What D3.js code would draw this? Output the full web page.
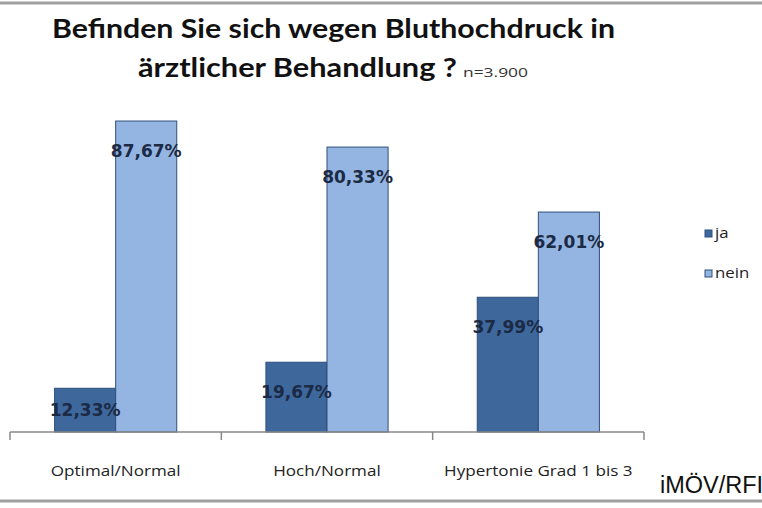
<!DOCTYPE html>
<html>
<head>
<meta charset="utf-8">
<script src="https://cdn.jsdelivr.net/npm/d3@7"></script>
<style>
  body { margin: 0; background: #fff; }
  svg { display: block; }
</style>
</head>
<body>
<div id="chart"></div>
<script>
var categories = ['Optimal/Normal', 'Hoch/Normal', 'Hypertonie Grad 1 bis 3'];
var series = ['ja', 'nein'];
var jaValues = [12.33, 19.67, 37.99];
var neinValues = [87.67, 80.33, 62.01];
var colors = { ja: '#3e679c', nein: '#94b5e2' };

var width = 762, height = 508;
var svg = d3.select('#chart').append('svg')
    .attr('width', width).attr('height', height);

// the source picture is stretched sideways, so widen text to match
function stretch(sel, k) {
  sel.each(function() {
    var l = this.getComputedTextLength();
    d3.select(this).attr('textLength', l * k).attr('lengthAdjust', 'spacingAndGlyphs');
  });
}

// frame lines top and bottom
svg.append('line').attr('x1', 0).attr('x2', width).attr('y1', 3).attr('y2', 3)
  .attr('stroke', '#a0a0a0').attr('stroke-width', 3);
svg.append('line').attr('x1', 0).attr('x2', width).attr('y1', 501).attr('y2', 501)
  .attr('stroke', '#a0a0a0').attr('stroke-width', 3);

// title
var titleFont = 'Lato, "Open Sans", sans-serif';
svg.append('text').attr('x', 52).attr('y', 38)
  .style('font-family', titleFont)
  .style('font-weight', 'bold').style('font-size', '27px').attr('fill', '#111')
  .attr('textLength', 563).attr('lengthAdjust', 'spacingAndGlyphs')
  .text('Befinden Sie sich wegen Bluthochdruck in');
svg.append('text').attr('x', 138).attr('y', 77)
  .style('font-family', titleFont)
  .style('font-weight', 'bold').style('font-size', '27px').attr('fill', '#111')
  .attr('textLength', 319).attr('lengthAdjust', 'spacingAndGlyphs')
  .text('ärztlicher Behandlung ?');
svg.append('text').attr('x', 463).attr('y', 77)
  .style('font-family', '"Open Sans", sans-serif')
  .style('font-size', '12px').attr('fill', '#333')
  .attr('textLength', 65).attr('lengthAdjust', 'spacingAndGlyphs')
  .text('n=3.900');

var x0 = d3.scaleBand().domain(categories).range([10, 644]).padding(0);
var x1 = d3.scaleBand().domain(series).range([0, x0.bandwidth()])
    .paddingInner(0).paddingOuter(0.73);
var y = d3.scaleLinear().domain([0, 100]).range([432, 77.3]);

var rows = categories.map(function(c, i) {
  return { cat: c, ja: jaValues[i], nein: neinValues[i] };
});

var groups = svg.selectAll('.grp').data(rows).enter().append('g')
  .attr('class', 'grp')
  .attr('transform', function(d) { return 'translate(' + x0(d.cat) + ',0)'; });

groups.selectAll('rect')
  .data(function(d) { return series.map(function(s) { return { key: s, value: d[s] }; }); })
  .enter().append('rect')
  .attr('x', function(d) { return x1(d.key); })
  .attr('y', function(d) { return y(d.value); })
  .attr('width', x1.bandwidth())
  .attr('height', function(d) { return y(0) - y(d.value); })
  .attr('fill', function(d) { return colors[d.key]; })
  .attr('stroke', '#2e4f7c').attr('stroke-width', 1);

groups.selectAll('.lbl')
  .data(function(d) { return series.map(function(s) { return { key: s, value: d[s] }; }); })
  .enter().append('text')
  .attr('class', 'lbl')
  .attr('x', function(d) { return x1(d.key) + x1.bandwidth() / 2; })
  .attr('y', function(d) {
    var top = y(d.value);
    return Math.min(top + 30, (top + y(0)) / 2) + 6;
  })
  .attr('text-anchor', 'middle')
  .style('font-family', '"DejaVu Sans", sans-serif')
  .style('font-weight', 'bold').style('font-size', '17px')
  .attr('fill', '#1b2a45')
  .text(function(d) { return d3.format('.2f')(d.value).replace('.', ',') + '%'; });

// x axis: baseline with ticks at band edges
var axis = svg.append('g').attr('stroke', '#888').attr('stroke-width', 1.5);
axis.append('line').attr('x1', x0.range()[0]).attr('x2', x0.range()[1])
  .attr('y1', y(0)).attr('y2', y(0));
var edges = categories.map(function(c) { return x0(c); }).concat([x0.range()[1]]);
axis.selectAll('.tick').data(edges).enter().append('line')
  .attr('x1', function(d) { return d; }).attr('x2', function(d) { return d; })
  .attr('y1', y(0)).attr('y2', y(0) + 8);

svg.selectAll('.cat').data(categories).enter().append('text')
  .attr('class', 'cat')
  .attr('x', function(d) { return x0(d) + x0.bandwidth() / 2; })
  .attr('y', 476)
  .attr('text-anchor', 'middle')
  .style('font-family', '"Open Sans", sans-serif').style('font-size', '14px')
  .attr('fill', '#222')
  .text(function(d) { return d; })
  .call(stretch, 1.22);

// legend
var legend = svg.selectAll('.leg').data(series).enter().append('g')
  .attr('transform', function(d, i) { return 'translate(705,' + (230 + i * 40) + ')'; });
legend.append('rect').attr('width', 7).attr('height', 7)
  .attr('fill', function(d) { return colors[d]; })
  .attr('stroke', '#2e4f7c').attr('stroke-width', 1);
legend.append('text').attr('x', 10).attr('y', 8)
  .style('font-family', '"Open Sans", sans-serif').style('font-size', '14px')
  .attr('fill', '#222')
  .text(function(d) { return d; })
  .call(stretch, 1.2);

svg.append('text').attr('x', 660).attr('y', 493)
  .style('font-family', '"Liberation Sans", Arial, sans-serif').style('font-size', '23.5px')
  .attr('fill', '#111')
  .text('iMÖV/RFI');
</script>
</body>
</html>
